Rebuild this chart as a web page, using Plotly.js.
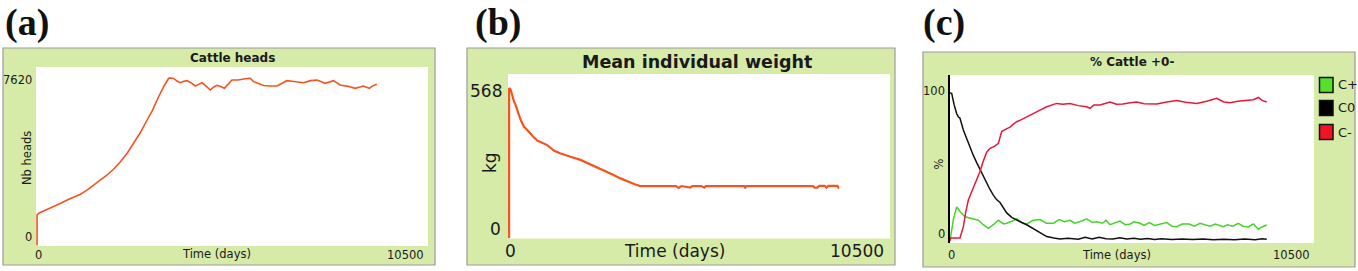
<!DOCTYPE html>
<html>
<head>
<meta charset="utf-8">
<script src="https://cdn.plot.ly/plotly-3.0.1.min.js"></script>
<style>html,body{margin:0;padding:0;background:#fff;}#chart{width:1358px;height:271px;}</style>
</head>
<body>
<div id="chart"></div>
<script>
// ---------- DATA ----------
// (a) Cattle heads
const headsTime = [0,0,60,200,362,500,650,810,980,1167,1350,1523,1700,1883,2060,2240,2420,2596,2780,2955,3100,3223,3300,3400,3480,3535,3600,3669,3760,3848,3940,4027,4140,4250,4340,4430,4540,4653,4740,4833,4930,5029,5235,5400,5592,5726,5815,5950,6083,6260,6441,6580,6710,6900,7156,7350,7515,7620,7737,7960,8140,8350,8542,8650,8765,8926,9000,9124];
const headsCount = [0,1388,1480,1580,1692,1800,1930,2070,2180,2330,2530,2752,2960,3207,3480,3812,4200,4649,5150,5709,6150,6619,6900,7224,7450,7606,7620,7600,7480,7406,7470,7497,7400,7256,7330,7406,7250,7074,7200,7288,7230,7151,7529,7530,7588,7606,7452,7350,7280,7256,7256,7380,7497,7460,7406,7500,7529,7460,7379,7497,7301,7240,7151,7200,7256,7151,7250,7333];

// (b) Mean individual weight
const weightTime = [0,0,41,88,130,179,220,270,330,408,500,592,680,776,900,1051,1140,1234,1400,1601,1780,1968,2150,2334,2520,2702,2880,3068,3200,3344,3480,3619,4600,4673,4750,4995,5050,5300,5380,5420,6480,6508,6540,8380,8420,8500,8550,8700,8750,8800,9050,9080,9100];
const weightKg = [0,568,564,536,520,505,485,467,445,423,410,398,383,370,362,353,343,332,322,312,305,297,286,274,263,252,240,227,219,211,204,198,198,191,198,192,198,198,192,198,198,192,198,198,192,192,199,199,192,199,199,192,193];

// (c) % Cattle +0-
const pctTimeCplus = [0,100,193,288,433,577,818,960,1106,1250,1395,1550,1635,1800,1924,2100,2213,2400,2597,2780,2981,3150,3300,3462,3600,3800,3943,4100,4232,4400,4500,4616,4800,4900,5050,5200,5300,5482,5600,5750,5900,6100,6250,6400,6540,6700,6900,7050,7213,7350,7500,7650,7886,8000,8150,8319,8450,8600,8750,8895,9000,9137];
const pctCplus = [0,15,23,20,16.4,15.5,14,11,8.6,11,14,11.5,12,13.5,15,12,11.5,14,14.5,12,12,14.5,13,14,12,13.5,15,12.5,13,12,14,11,12.5,13.5,11,11.5,13,12,10.5,12.5,10.5,11.5,12.5,10,9.7,11.5,11.5,10,12,11,10,11.5,9.7,11,10,12,10,9.5,11.5,7.9,9.5,10.8];

const pctTimeC0 = [0,49,120,193,240,288,385,480,577,670,770,914,1000,1058,1150,1250,1343,1443,1540,1635,1780,1924,2070,2213,2350,2500,2650,2790,3000,3173,3400,3700,3900,4100,4300,4500,4700,4900,5100,5300,5500,5700,5900,6100,6400,6700,7000,7300,7600,7900,8200,8500,8800,9000,9137];
const pctC0 = [100,99.8,92,86,84,83,75,69,63,58,53,46,42,39,35,31,28,26,22,19,16,14,12.5,11,9,7.4,5,3,2,1.4,1.8,1.2,2.5,1.3,2.6,1.5,1.4,2.2,1.3,1.8,1.2,1.7,1.0,1.5,1.0,1.3,1.0,1.4,0.9,1.2,0.8,1.3,0.9,1.5,1.2];

const pctTimeCminus = [0,20,288,330,385,450,529,620,721,800,866,960,1058,1154,1280,1395,1490,1600,1731,1830,1924,2060,2213,2400,2597,2790,2950,3078,3250,3462,3700,3943,4039,4150,4327,4616,4800,4991,5200,5386,5600,5963,6250,6540,6800,7117,7400,7694,7900,8078,8300,8559,8750,8895,9000,9137];
const pctCminus = [0,2,2,5,9.7,19,27.7,33,39,43,47,54,60,62.6,64,66,74,75.5,77,79,80.6,82,84,86,88.5,90.7,92,93,92.5,93,91.5,90.7,89.7,92,92,94,92.5,92.6,93.5,94,92.8,92.6,94,95,93.8,93,94.5,96.4,94,93.5,94.5,95,95.5,97,95,94];

const legendNames = ["C+","C0","C-"];
const tickLabels = {a:["0","7620","0","10500"], b:["0","568","0","10500"], c:["0","100","0","10500"]};

// ---------- LAYOUT HELPERS ----------
const W = 1358, H = 271;
const X = p => p / W;
const Y = p => 1 - p / H;
const ORANGE = "#f5541f";
const GREEN_BG = "#d6eba8";
const FONT = "DejaVu Sans, Verdana, sans-serif";

function rect(x0, y0, x1, y1, fill, line, lw) {
  return {type: "rect", xref: "paper", yref: "paper", layer: "below",
    x0: X(x0), x1: X(x1), y0: Y(y1), y1: Y(y0),
    fillcolor: fill, line: {color: line || fill, width: lw === undefined ? 0 : lw}};
}
function ann(text, x, y, size, opts) {
  const o = Object.assign({xanchor: "center", yanchor: "middle", bold: false, family: FONT, angle: 0, color: "#1a1a1a"}, opts || {});
  return {text: o.bold ? "<b>" + text + "</b>" : text, x: X(x), y: Y(y), xref: "paper", yref: "paper",
    showarrow: false, xanchor: o.xanchor, yanchor: o.yanchor, textangle: o.angle,
    font: {family: o.family, size: size, color: o.color}};
}

const shapes = [
  rect(3, 48, 435, 265, GREEN_BG, "#9c9c9c", 1.2),
  rect(467, 48, 895, 265, GREEN_BG, "#9c9c9c", 1.2),
  rect(923, 52, 1355, 267, GREEN_BG, "#9c9c9c", 1.2),
  rect(36, 67, 428, 246, "#ffffff"),
  rect(508, 74, 890, 238.5, "#ffffff"),
  rect(950, 75, 1314, 243, "#ffffff"),
  rect(1319.5, 77.5, 1333, 92.5, "#55e02a", "#111", 1.5),
  rect(1319.5, 100.5, 1333, 115.5, "#000000", "#111", 1.5),
  rect(1319.5, 124.5, 1333, 139.5, "#ee1424", "#111", 1.5)
];

const SERIF = "Liberation Serif, Times New Roman, serif";
const annotations = [
  ann("(a)", 27, 22, 38, {bold: true, family: SERIF, color: "#111"}),
  ann("(b)", 498, 22, 38, {bold: true, family: SERIF, color: "#111"}),
  ann("(c)", 943.5, 22, 38, {bold: true, family: SERIF, color: "#111"}),
  // (a)
  ann("Cattle heads", 232, 58, 12, {bold: true}),
  ann(tickLabels.a[1], 33.5, 80, 11.5, {xanchor: "right"}),
  ann(tickLabels.a[0], 33.5, 237, 11.5, {xanchor: "right"}),
  ann("Nb heads", 27, 158, 11.5, {angle: -90}),
  ann(tickLabels.a[2], 38, 254.5, 11.5),
  ann("Time (days)", 216, 254, 11.5),
  ann(tickLabels.a[3], 425.5, 254.5, 11.5, {xanchor: "right"}),
  // (b)
  ann("Mean individual weight", 697.5, 62, 17.5, {bold: true}),
  ann(tickLabels.b[1], 503.5, 91, 17, {xanchor: "right"}),
  ann(tickLabels.b[0], 503, 229, 17, {xanchor: "right"}),
  ann("kg", 490, 163, 17, {angle: -90}),
  ann(tickLabels.b[2], 510.5, 251, 17),
  ann("Time (days)", 674, 250.5, 17),
  ann(tickLabels.b[3], 885.5, 250.5, 17, {xanchor: "right"}),
  // (c)
  ann("% Cattle +0-", 1131.7, 62.5, 12, {bold: true}),
  ann(tickLabels.c[1], 947, 91, 11.5, {xanchor: "right"}),
  ann(tickLabels.c[0], 947, 234, 11.5, {xanchor: "right"}),
  ann("%", 938, 164.5, 11.5, {angle: -90}),
  ann(tickLabels.c[2], 951.5, 255, 11.5),
  ann("Time (days)", 1116.7, 255, 11.5),
  ann(tickLabels.c[3], 1312, 255, 11.5, {xanchor: "right"}),
  ann(legendNames[0], 1335.5, 85, 13, {xanchor: "left"}),
  ann(legendNames[1], 1335.5, 108, 13, {xanchor: "left"}),
  ann(legendNames[2], 1335.5, 132, 13, {xanchor: "left"})
];

const baseAxis = {showgrid: false, zeroline: false, showticklabels: false, ticks: "", showline: false, fixedrange: true};

const layout = {
  width: W, height: H,
  margin: {l: 0, r: 0, t: 0, b: 0, pad: 0},
  paper_bgcolor: "#ffffff",
  plot_bgcolor: "rgba(0,0,0,0)",
  showlegend: false,
  shapes: shapes,
  annotations: annotations,
  xaxis:  Object.assign({}, baseAxis, {domain: [X(36), X(428)], range: [-28, 10500], anchor: "y"}),
  yaxis:  Object.assign({}, baseAxis, {domain: [Y(246), Y(67)], range: [-23, 8120], anchor: "x"}),
  xaxis2: Object.assign({}, baseAxis, {domain: [X(508), X(890)], range: [-30, 10500], anchor: "y2"}),
  yaxis2: Object.assign({}, baseAxis, {domain: [Y(238.5), Y(74)], range: [-0.5, 622], anchor: "x2"}),
  xaxis3: Object.assign({}, baseAxis, {domain: [X(950), X(1314)], range: [0, 10500], anchor: "y3"}),
  yaxis3: Object.assign({}, baseAxis, {domain: [Y(243), Y(75)], range: [-1.35, 112.2], anchor: "x3",
    showline: true, linecolor: "#000000", linewidth: 2})
};

const data = [
  {x: headsTime, y: headsCount, type: "scatter", mode: "lines", xaxis: "x", yaxis: "y",
   line: {color: ORANGE, width: 1.6}, hoverinfo: "skip"},
  {x: weightTime, y: weightKg, type: "scatter", mode: "lines", xaxis: "x2", yaxis: "y2",
   line: {color: ORANGE, width: 2.2}, hoverinfo: "skip"},
  {x: pctTimeCplus, y: pctCplus, type: "scatter", mode: "lines", xaxis: "x3", yaxis: "y3", name: legendNames[0],
   line: {color: "#45d42a", width: 1.5}, hoverinfo: "skip"},
  {x: pctTimeC0, y: pctC0, type: "scatter", mode: "lines", xaxis: "x3", yaxis: "y3", name: legendNames[1],
   line: {color: "#111111", width: 1.5}, hoverinfo: "skip"},
  {x: pctTimeCminus, y: pctCminus, type: "scatter", mode: "lines", xaxis: "x3", yaxis: "y3", name: legendNames[2],
   line: {color: "#e8183a", width: 1.5}, hoverinfo: "skip"}
];

Plotly.newPlot("chart", data, layout, {staticPlot: true, displayModeBar: false});
</script>
</body>
</html>
